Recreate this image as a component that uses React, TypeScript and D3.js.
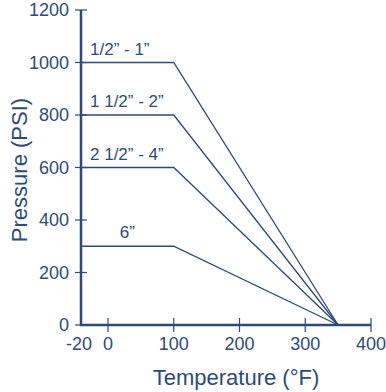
import React from 'react';
import * as d3 from 'd3';

const sizes = ['1/2\u201D - 1\u201D', '1 1/2\u201D - 2\u201D', '2 1/2\u201D - 4\u201D', '6\u201D'];
const maxPressure = [1000, 800, 600, 300];
const kneeTemp = 100;
const zeroTemp = 350;
const minTemp = -20;
const xTicks = [0, 100, 200, 300, 400];
const yTicks = [0, 200, 400, 600, 800, 1000, 1200];

const navy = '#2e4a7a';
const font = '"Liberation Sans", Arial, Helvetica, sans-serif';

const App = () => {
  const width = 386;
  const height = 392;

  // axis is hand-drawn with a wider gap between -20 and 0
  const x = d3.scaleLinear().domain([-20, 0, 400]).range([81, 108, 371]);
  const y = d3.scaleLinear().domain([0, 1200]).range([325, 10]);

  const line = d3.line<[number, number]>()
    .x(d => x(d[0]))
    .y(d => y(d[1]));

  return (
    <div style={{ position: 'absolute', left: 0, top: 0 }}>
      <svg width={width} height={height} style={{ display: 'block' }} fontFamily={font}>
        {/* curves */}
        {maxPressure.map((p, i) => (
          <g key={i}>
            <path
              d={line([[minTemp, p], [kneeTemp, p], [zeroTemp, 0]]) || ''}
              fill="none"
              stroke={navy}
              strokeWidth={1.3}
            />
            <text
              x={i === 3 ? (x(minTemp) + x(kneeTemp)) / 2 : x(minTemp) + 9}
              y={y(p) - 8}
              textAnchor={i === 3 ? 'middle' : 'start'}
              fontSize={17}
              fill={navy}
            >
              {sizes[i]}
            </text>
          </g>
        ))}

        {/* y axis */}
        <line x1={x(minTemp)} x2={x(minTemp)} y1={y(1200)} y2={y(0) + 1} stroke={navy} strokeWidth={2.5} />
        {yTicks.map(t => (
          <g key={t}>
            <line x1={x(minTemp) - 6} x2={x(minTemp) + 6} y1={y(t)} y2={y(t)} stroke={navy} strokeWidth={1.2} />
            <text x={69} y={y(t)} dy="0.36em" textAnchor="end" fontSize={18} fill={navy}>{t}</text>
          </g>
        ))}

        {/* x axis */}
        <line x1={x(minTemp) - 1} x2={x(400)} y1={y(0)} y2={y(0)} stroke={navy} strokeWidth={2.5} />
        {xTicks.map(t => (
          <line key={t} x1={x(t)} x2={x(t)} y1={y(0) - 7} y2={y(0) + 7} stroke={navy} strokeWidth={1.2} />
        ))}
        {[minTemp, ...xTicks].map(t => (
          <text key={t} x={t === minTemp ? x(t) - 2 : x(t)} y={350} textAnchor="middle" fontSize={18} fill={navy}>{t}</text>
        ))}

        <text x={236} y={385} textAnchor="middle" fontSize={22} fill={navy}>Temperature (°F)</text>
        <text transform="translate(27,170) rotate(-90)" textAnchor="middle" fontSize={22} fill={navy}>Pressure (PSI)</text>
      </svg>
    </div>
  );
};

export default App;
